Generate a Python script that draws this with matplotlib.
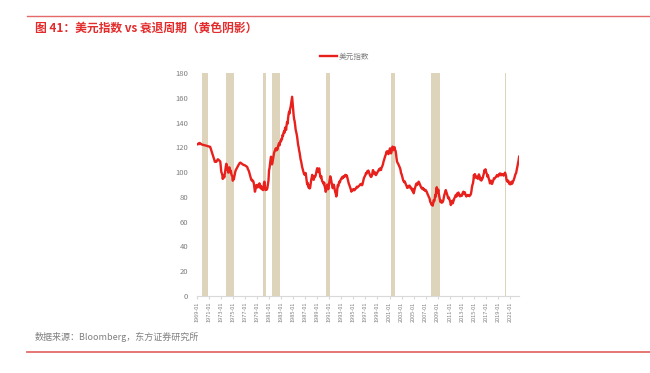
import pandas as pd
import matplotlib.pyplot as plt
from matplotlib.lines import Line2D

# 字体设置 (中文)
plt.rcParams['font.family'] = ['Noto Sans CJK SC', 'DejaVu Sans']
plt.rcParams['axes.unicode_minus'] = False

# 1. 数据: 美元指数 月度 (1969-01 起)
dxy_by_year = {
    1969: [122.6, 122.8, 122.5, 122.9, 123.1, 122.7, 123.6, 123.3, 122.9, 122.6, 122.4, 122.3],
    1970: [122.2, 122.1, 122.0, 121.9, 121.8, 121.7, 121.6, 121.4, 121.3, 121.2, 121.0, 120.9],
    1971: [120.8, 120.7, 120.6, 120.4, 119.0, 117.8, 116.5, 115.2, 114.0, 112.6, 111.4, 110.3],
    1972: [108.5, 108.3, 108.6, 108.4, 108.9, 109.7, 110.4, 110.2, 109.8, 109.3, 108.9, 108.6],
    1973: [104.5, 100.1, 99.2, 97.8, 94.5, 96.2, 97.0, 95.7, 98.4, 101.3, 104.6, 106.8],
    1974: [105.9, 101.8, 103.4, 99.6, 101.8, 103.9, 102.5, 99.7, 101.2, 98.5, 97.4, 96.6],
    1975: [93.1, 95.8, 94.2, 96.4, 98.3, 100.5, 101.7, 102.5, 103.4, 104.0, 104.8, 105.6],
    1976: [106.3, 106.9, 107.5, 107.7, 107.4, 107.1, 106.8, 106.5, 106.2, 105.9, 105.8, 105.7],
    1977: [105.5, 105.2, 104.9, 104.6, 104.4, 103.8, 102.4, 101.7, 100.8, 99.3, 97.7, 96.5],
    1978: [94.8, 93.6, 93.9, 92.8, 93.1, 92.3, 90.4, 87.2, 84.2, 85.8, 88.6, 89.6],
    1979: [89.2, 87.6, 88.2, 90.0, 88.7, 90.9, 89.4, 87.1, 88.9, 86.5, 87.4, 85.8],
    1980: [85.5, 86.8, 91.2, 92.3, 88.4, 85.5, 85.9, 86.7, 86.0, 87.9, 90.6, 93.4],
    1981: [101.4, 103.2, 106.5, 109.8, 112.5, 110.6, 106.3, 108.0, 110.5, 112.8, 115.4, 116.7],
    1982: [117.6, 118.9, 119.4, 117.6, 119.0, 118.4, 121.1, 122.3, 123.4, 121.7, 124.1, 125.3],
    1983: [125.0, 127.2, 126.7, 130.1, 129.4, 131.8, 133.2, 132.0, 135.6, 136.4, 134.2, 137.8],
    1984: [140.6, 139.2, 143.5, 146.8, 148.9, 147.5, 151.2, 152.6, 155.4, 158.3, 161.0, 156.2],
    1985: [150.5, 146.2, 143.0, 141.3, 138.4, 134.6, 132.8, 131.0, 128.5, 125.2, 122.0, 120.3],
    1986: [117.4, 115.6, 113.0, 110.2, 108.8, 106.5, 104.2, 102.8, 101.1, 99.6, 98.4, 97.9],
    1987: [98.8, 99.3, 96.2, 93.5, 90.1, 91.4, 89.3, 87.5, 88.9, 86.8, 87.6, 90.8],
    1988: [93.6, 95.5, 97.8, 96.3, 94.1, 93.8, 95.2, 96.9, 96.4, 97.5, 99.8, 101.6],
    1989: [103.2, 102.5, 100.1, 101.8, 103.0, 99.4, 97.1, 95.6, 96.8, 94.2, 92.6, 92.0],
    1990: [91.3, 90.2, 91.6, 88.4, 86.6, 84.1, 85.8, 87.2, 89.9, 88.5, 86.2, 88.8],
    1991: [91.4, 94.5, 96.6, 95.4, 93.0, 90.1, 88.6, 87.0, 88.5, 89.9, 88.3, 85.6],
    1992: [83.7, 82.4, 80.3, 81.5, 86.4, 89.6, 88.7, 90.8, 92.3, 91.6, 93.0, 94.2],
    1993: [94.8, 95.6, 94.9, 96.3, 95.7, 96.6, 96.1, 97.3, 97.8, 96.8, 97.5, 97.2],
    1994: [95.4, 93.6, 91.8, 90.5, 89.6, 88.4, 87.2, 85.9, 84.2, 85.6, 85.0, 85.5],
    1995: [86.3, 85.8, 85.3, 85.7, 86.2, 86.9, 87.5, 88.2, 87.6, 88.0, 88.4, 88.7],
    1996: [89.1, 89.6, 90.3, 89.8, 90.5, 89.4, 89.9, 91.6, 93.4, 95.2, 96.1, 96.8],
    1997: [97.7, 99.2, 98.6, 99.8, 100.9, 100.4, 101.3, 99.7, 98.9, 97.5, 96.8, 96.1],
    1998: [96.3, 97.5, 99.6, 101.7, 100.8, 99.3, 98.5, 99.9, 98.2, 97.6, 98.4, 99.0],
    1999: [99.8, 100.6, 101.4, 102.2, 101.5, 103.0, 102.4, 101.7, 103.5, 104.2, 105.3, 106.4],
    2000: [108.5, 109.7, 111.2, 112.5, 113.6, 114.8, 116.6, 115.4, 116.9, 115.2, 114.6, 116.3],
    2001: [118.1, 119.3, 117.2, 115.2, 116.6, 118.4, 120.7, 119.5, 117.8, 119.6, 120.2, 118.0],
    2002: [117.3, 114.5, 111.2, 108.5, 107.6, 107.0, 106.1, 105.3, 104.4, 103.2, 101.6, 99.0],
    2003: [98.4, 96.9, 95.4, 93.6, 92.8, 91.9, 92.6, 91.8, 90.7, 89.6, 88.9, 87.3],
    2004: [88.2, 87.6, 88.9, 88.2, 89.1, 87.8, 86.9, 87.5, 86.9, 85.2, 84.6, 86.2],
    2005: [82.9, 84.4, 86.2, 87.5, 88.9, 90.3, 90.9, 89.6, 90.2, 91.4, 92.3, 91.6],
    2006: [90.4, 89.6, 88.5, 87.6, 86.9, 87.4, 86.5, 86.9, 85.6, 86.3, 85.5, 84.8],
    2007: [85.5, 84.9, 84.2, 83.1, 82.0, 81.3, 80.1, 79.4, 78.2, 76.0, 75.2, 74.6],
    2008: [73.4, 74.8, 72.9, 75.1, 77.4, 76.5, 78.3, 81.5, 80.2, 85.6, 87.8, 84.8],
    2009: [83.6, 85.9, 82.9, 80.6, 78.4, 76.0, 77.3, 75.4, 76.2, 75.5, 76.0, 77.1],
    2010: [79.4, 81.5, 82.6, 84.1, 85.5, 84.3, 82.9, 81.5, 80.2, 78.8, 79.6, 78.3],
    2011: [77.2, 75.8, 73.4, 74.6, 75.2, 76.9, 74.8, 76.3, 77.4, 78.8, 79.5, 80.3],
    2012: [81.6, 80.2, 81.1, 82.9, 81.4, 83.5, 82.6, 81.9, 80.4, 81.5, 80.7, 81.2],
    2013: [80.9, 82.6, 83.4, 84.2, 83.1, 82.4, 83.7, 81.9, 81.0, 80.3, 81.5, 81.0],
    2014: [81.5, 80.8, 81.2, 80.6, 81.0, 81.5, 82.3, 84.4, 87.6, 89.6, 90.8, 93.2],
    2015: [97.7, 95.6, 98.4, 97.0, 96.1, 95.3, 96.3, 95.4, 94.6, 96.8, 98.2, 97.1],
    2016: [95.8, 93.6, 94.4, 93.2, 95.1, 94.7, 96.2, 98.0, 99.3, 101.7, 100.8, 102.3],
    2017: [100.5, 99.2, 98.4, 96.3, 97.5, 95.8, 94.2, 92.9, 90.9, 92.6, 93.1, 92.2],
    2018: [90.4, 91.6, 92.7, 93.8, 95.0, 94.6, 95.3, 95.8, 96.1, 96.9, 97.7, 96.8],
    2019: [96.5, 97.3, 98.2, 97.6, 99.0, 98.1, 97.4, 98.6, 97.9, 98.3, 97.7, 97.2],
    2020: [97.7, 98.9, 99.6, 98.4, 96.7, 93.6, 92.8, 92.3, 93.2, 92.6, 90.9, 90.3],
    2021: [90.5, 90.2, 91.8, 92.3, 90.6, 91.4, 92.7, 93.3, 94.6, 95.8, 97.5, 98.6],
    2022: [99.2, 101.3, 103.5, 105.7, 107.4, 109.6, 112.5],
}

# 衰退周期 (NBER)
recession_start = ['1969-12', '1973-11', '1980-01', '1981-07', '1990-07', '2001-03', '2007-12', '2020-02']
recession_end = ['1970-11', '1975-03', '1980-07', '1982-11', '1991-03', '2001-11', '2009-06', '2020-04']

tick_years = list(range(1969, 2022, 2))
tick_labels = [f'{y}-01' for y in tick_years]

dxy_values = [v for y in sorted(dxy_by_year) for v in dxy_by_year[y]]
dates = pd.date_range('1969-01-01', periods=len(dxy_values), freq='MS')

# 2. 绘图
fig = plt.figure(figsize=(6.5, 3.73), dpi=100)
ax = fig.add_axes([0.3026, 0.2072, 0.4960, 0.5963])

for s, e in zip(recession_start, recession_end):
    ax.axvspan(pd.Timestamp(s), pd.Timestamp(e), color='#ded4bc', lw=0, zorder=1)

ax.plot(dates, dxy_values, color='#e8211d', lw=1.7, zorder=3)

ax.set_xlim(dates[0], dates[-1])
ax.set_ylim(0, 180)
ax.set_yticks(range(0, 181, 20))
ax.set_xticks([pd.Timestamp(f'{y}-01-01') for y in tick_years])
ax.set_xticklabels(tick_labels, rotation=90)

for side in ['top', 'right', 'left']:
    ax.spines[side].set_visible(False)
ax.spines['bottom'].set_color('#d9d9d9')
ax.spines['bottom'].set_linewidth(0.8)
ax.tick_params(axis='y', length=0, labelsize=5.5, labelcolor='#7f7f7f', pad=6)
ax.tick_params(axis='x', length=2.5, color='#d9d9d9', labelsize=4, labelcolor='#7f7f7f', pad=2)

# 图例
handle = Line2D([], [], color='#e8211d', lw=1.7)
fig.legend([handle], ['美元指数'], loc='center', bbox_to_anchor=(0.53, 0.847),
           frameon=False, fontsize=5.5, labelcolor='#7f7f7f',
           handlelength=2.2, handletextpad=0.3)

# 标题、来源与分隔线
fig.text(35 / 650, 1 - 28 / 373, '图 41：美元指数 vs 衰退周期（黄色阴影）',
         color='#e32b2b', fontsize=8.5, fontweight='bold', va='center', ha='left')
fig.text(35 / 650, 1 - 337 / 373, '数据来源：Bloomberg，东方证券研究所',
         color='#808080', fontsize=6.5, va='center', ha='left')
fig.add_artist(Line2D([27 / 650, 1], [1 - 16 / 373] * 2, color='#e46a6a', lw=1.0))
fig.add_artist(Line2D([27 / 650, 1], [1 - 352 / 373] * 2, color='#e46a6a', lw=1.3))

fig.savefig('out.png', dpi=100)
